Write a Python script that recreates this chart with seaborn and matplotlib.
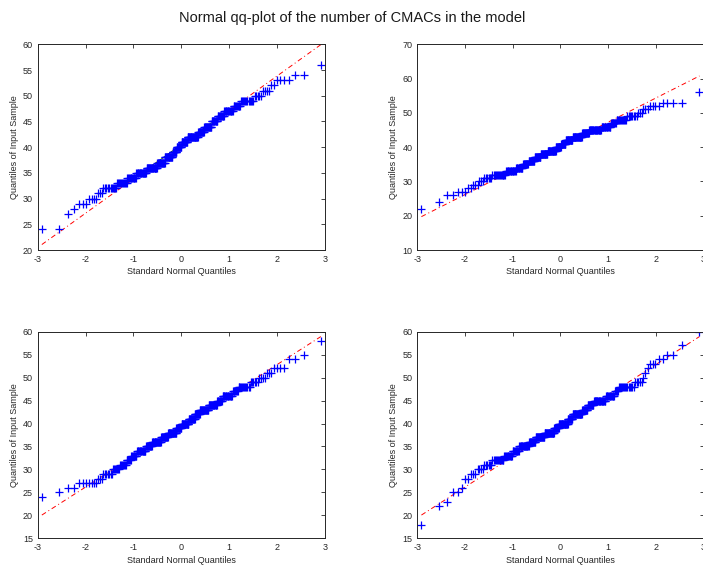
import numpy as np
import pandas as pd
import matplotlib
matplotlib.use("Agg")
import matplotlib.pyplot as plt
import seaborn as sns
from statistics import NormalDist

# ---- data: sample values (integers) and how many times each occurs ----
p1_values = [24, 27, 28, 29, 30, 31, 32, 33, 34, 35, 36, 37, 38, 39, 40, 41, 42, 43, 44, 45,
             46, 47, 48, 49, 50, 51, 52, 53, 54, 56]
p1_counts = [2, 1, 1, 3, 4, 3, 11, 11, 12, 17, 21, 16, 17, 10, 11, 14, 24, 13, 15, 11,
             11, 13, 9, 12, 5, 4, 2, 4, 2, 1]

p2_values = [22, 24, 26, 27, 28, 29, 30, 31, 32, 33, 34, 35, 36, 37, 38, 39, 40, 41, 42, 43,
             44, 45, 46, 47, 48, 49, 50, 51, 52, 53, 56]
p2_counts = [1, 1, 2, 3, 2, 3, 3, 6, 14, 14, 11, 10, 12, 13, 15, 19, 12, 11, 16, 21,
             14, 22, 14, 7, 11, 8, 3, 3, 4, 4, 1]

p3_values = [24, 25, 26, 27, 28, 29, 30, 31, 32, 33, 34, 35, 36, 37, 38, 39, 40, 41, 42, 43,
             44, 45, 46, 47, 48, 49, 50, 51, 52, 54, 55, 58]
p3_counts = [1, 1, 2, 7, 3, 7, 7, 7, 6, 8, 15, 12, 18, 15, 19, 12, 17, 14, 11, 18,
             16, 9, 15, 7, 12, 6, 4, 3, 4, 2, 1, 1]

p4_values = [18, 22, 23, 25, 26, 28, 29, 30, 31, 32, 33, 34, 35, 36, 37, 38, 39, 40, 41, 42,
             43, 44, 45, 46, 47, 48, 49, 50, 51, 52, 53, 54, 55, 57, 60]
p4_counts = [1, 1, 1, 2, 1, 2, 3, 4, 6, 12, 11, 10, 17, 13, 19, 22, 11, 21, 11, 21,
             11, 12, 20, 12, 5, 14, 5, 1, 1, 1, 3, 2, 2, 1, 1]

panels = [
    (p1_values, p1_counts, (20, 60), 5),
    (p2_values, p2_counts, (10, 70), 10),
    (p3_values, p3_counts, (15, 60), 5),
    (p4_values, p4_counts, (15, 60), 5),
]

title = "Normal qq-plot of the number of CMACs in the model"
xlabel = "Standard Normal Quantiles"
ylabel = "Quantiles of Input Sample"

# ---- styling ----
sns.set_theme(style="white")
plt.rcParams["font.family"] = ["Liberation Sans", "DejaVu Sans"]
plt.rcParams["axes.unicode_minus"] = False
plt.rcParams["axes.edgecolor"] = "#262626"
plt.rcParams["text.color"] = "#1a1a1a"

W, H = 703, 567
fig = plt.figure(figsize=(W / 100, H / 100), dpi=100)
fig.patch.set_facecolor("white")

# pixel boxes (left, top, right, bottom)
boxes = [
    (37.7, 44.3, 325.0, 250.0),
    (417.3, 44.3, 703.6, 250.0),
    (37.7, 331.7, 325.0, 538.3),
    (417.3, 331.7, 703.6, 538.3),
]

nd = NormalDist()
for (vals, cnts, ylim, ystep), (l, t, r, b) in zip(panels, boxes):
    ax = fig.add_axes([l / W, 1 - b / H, (r - l) / W, (b - t) / H])
    y = np.repeat(np.array(vals, dtype=float), cnts)
    n = len(y)
    x = np.array([nd.inv_cdf((i - 0.5) / n) for i in range(1, n + 1)])
    df = pd.DataFrame({"x": x, "y": y})

    q1x, q3x = np.percentile(x, [25, 75], method="hazen")
    q1y, q3y = np.percentile(y, [25, 75], method="hazen")
    slope = (q3y - q1y) / (q3x - q1x)
    ext = pd.DataFrame({"x": [x.min(), x.max()]})
    ext["y"] = q1y + slope * (ext["x"] - q1x)
    mid = pd.DataFrame({"x": [q1x, q3x], "y": [q1y, q3y]})
    sns.lineplot(data=ext, x="x", y="y", ax=ax, color="#ff0000", linewidth=0.7,
                 linestyle=(0, (5, 3, 1, 3)), zorder=1)
    sns.lineplot(data=mid, x="x", y="y", ax=ax, color="#008000", linewidth=0.6, zorder=1.5)

    sns.scatterplot(data=df, x="x", y="y", ax=ax, marker="+", color="#0000ff",
                    s=26, linewidth=0.9, zorder=2)

    ax.set_xlim(-3, 3)
    ax.set_ylim(*ylim)
    ax.set_xticks(np.arange(-3, 4, 1))
    ax.set_yticks(np.arange(ylim[0], ylim[1] + 0.1, ystep))
    ax.tick_params(direction="in", length=3, width=0.6, colors="#262626",
                   labelsize=6.5, top=True, right=True, pad=3.5)
    for sp in ax.spines.values():
        sp.set_linewidth(0.7)
        sp.set_visible(True)
    ax.set_xlabel(xlabel, fontsize=6.5, labelpad=2.5)
    ax.set_ylabel(ylabel, fontsize=6.5, labelpad=3)
    ax.set_facecolor("white")

fig.text(352 / W, 1 - 18 / H, title, ha="center", va="center", fontsize=10.5)

fig.savefig("out.png", dpi=100, facecolor="white")
